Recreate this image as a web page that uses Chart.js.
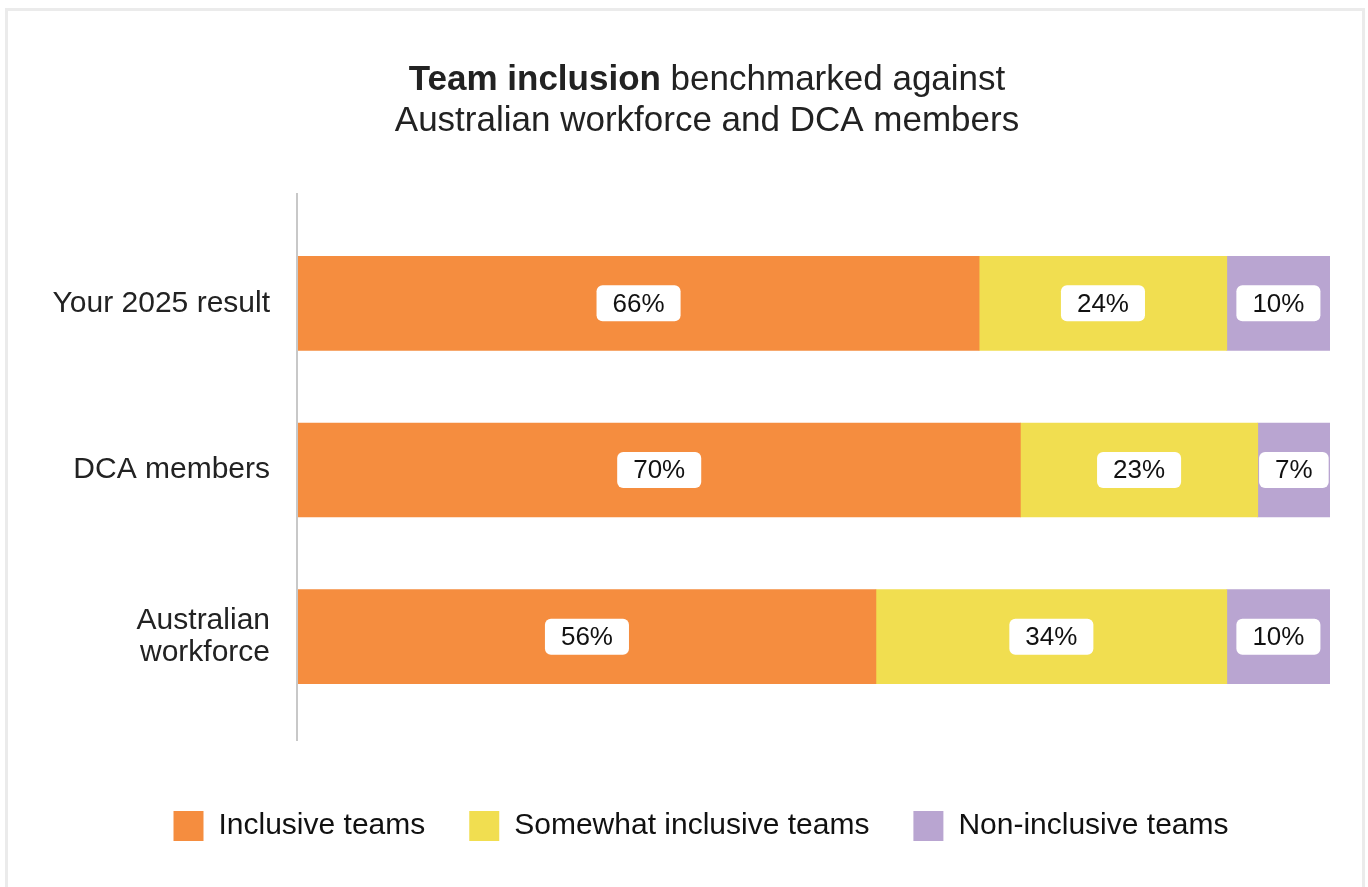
<!DOCTYPE html>
<html>
<head>
<meta charset="utf-8">
<title>Team inclusion</title>
<script src="https://cdn.jsdelivr.net/npm/chart.js@4.4.1/dist/chart.umd.min.js"></script>
<style>
  html, body { margin: 0; padding: 0; background: #fff; }
  #wrap { position: relative; width: 1368px; height: 887px; overflow: hidden; }
  #frame {
    position: absolute; left: 5px; top: 8px; width: 1354px; height: 900px;
    border: 3px solid #ebebeb; box-sizing: content-box;
  }
  #chart { position: absolute; left: 0; top: 0; }
</style>
</head>
<body>
<div id="wrap">
  <div id="frame"></div>
  <canvas id="chart" width="1368" height="887"></canvas>
</div>
<script>
const categories = ['Your 2025 result', 'DCA members', ['Australian', 'workforce']];
const seriesNames = ['Inclusive teams', 'Somewhat inclusive teams', 'Non-inclusive teams'];
const inclusive = [66, 70, 56];
const somewhat = [24, 23, 34];
const nonInclusive = [10, 7, 10];
const titleBold = 'Team inclusion';
const titleRest = ' benchmarked against';
const titleLine2 = 'Australian workforce and DCA members';

const colors = ['#f58d3f', '#f1de50', '#b9a5d1'];
const FONT = "'Liberation Sans', Arial, Helvetica, sans-serif";

Chart.defaults.font.family = FONT;

// the legend sits a little right of the full-width centre
const legendShift = {
  id: 'legendShift',
  afterLayout(chart) {
    chart.legend.left += 16;
    chart.legend.right += 16;
  }
};

// two-line title, first words in bold
const titlePlugin = {
  id: 'mixedTitle',
  afterDraw(chart) {
    const ctx = chart.ctx;
    const cx = (chart.legend.left + chart.legend.right) / 2 + 6;
    ctx.save();
    ctx.fillStyle = '#222';
    ctx.textBaseline = 'alphabetic';
    ctx.textAlign = 'left';
    ctx.font = 'bold 35px ' + FONT;
    const wb = ctx.measureText(titleBold).width;
    ctx.font = '35px ' + FONT;
    const wr = ctx.measureText(titleRest).width;
    const x = cx - (wb + wr) / 2;
    ctx.font = 'bold 35px ' + FONT;
    ctx.fillText(titleBold, x, 90);
    ctx.font = '35px ' + FONT;
    ctx.fillText(titleRest, x + wb, 90);
    ctx.textAlign = 'center';
    ctx.fillText(titleLine2, cx, 131);
    ctx.restore();
  }
};

// vertical axis line, a bit taller than the plot area
const axisLinePlugin = {
  id: 'axisLine',
  beforeDatasetsDraw(chart) {
    const {ctx, chartArea} = chart;
    ctx.save();
    ctx.strokeStyle = '#c8c8c8';
    ctx.lineWidth = 2;
    ctx.beginPath();
    ctx.moveTo(chartArea.left - 1, chartArea.top - 27);
    ctx.lineTo(chartArea.left - 1, chartArea.bottom + 21);
    ctx.stroke();
    ctx.restore();
  }
};

// white value badges in the middle of each segment
const badgePlugin = {
  id: 'badges',
  afterDatasetsDraw(chart) {
    const ctx = chart.ctx;
    ctx.save();
    ctx.font = '26px ' + FONT;
    ctx.textAlign = 'center';
    ctx.textBaseline = 'middle';
    chart.data.datasets.forEach((ds, di) => {
      chart.getDatasetMeta(di).data.forEach((bar, i) => {
        const label = ds.data[i] + '%';
        const cx = (bar.x + bar.base) / 2;
        const w = ctx.measureText(label).width + 32;
        const h = 36;
        ctx.fillStyle = '#fff';
        ctx.beginPath();
        ctx.roundRect(cx - w / 2, bar.y - h / 2, w, h, 6);
        ctx.fill();
        ctx.fillStyle = '#111';
        ctx.fillText(label, cx, bar.y + 1);
      });
    });
    ctx.restore();
  }
};

const ctx = document.getElementById('chart');
new Chart(ctx, {
  type: 'bar',
  data: {
    labels: categories,
    datasets: [
      { label: seriesNames[0], data: inclusive, backgroundColor: colors[0] },
      { label: seriesNames[1], data: somewhat, backgroundColor: colors[1] },
      { label: seriesNames[2], data: nonInclusive, backgroundColor: colors[2] }
    ]
  },
  options: {
    indexAxis: 'y',
    responsive: false,
    animation: false,
    layout: { padding: { top: 220, left: 40, right: 38, bottom: 36 } },
    datasets: { bar: { barThickness: 94, borderWidth: 0 } },
    plugins: {
      title: { display: false },
      tooltip: { enabled: false },
      legend: {
        position: 'bottom',
        labels: {
          boxWidth: 30,
          boxHeight: 30,
          padding: 44,
          color: '#111',
          font: { size: 30 }
        }
      }
    },
    scales: {
      x: {
        stacked: true,
        min: 0,
        max: 100,
        grid: { display: false },
        border: { display: false },
        ticks: { display: false },
        afterFit(scale) { scale.height = 47; }
      },
      y: {
        stacked: true,
        grid: { display: false, drawTicks: false },
        border: { display: false },
        ticks: {
          color: '#222',
          padding: 28,
          font: { size: 30, lineHeight: 1.08 }
        },
        afterFit(scale) { scale.width = 298 - 40; }
      }
    }
  },
  plugins: [legendShift, titlePlugin, axisLinePlugin, badgePlugin]
});
</script>
</body>
</html>
